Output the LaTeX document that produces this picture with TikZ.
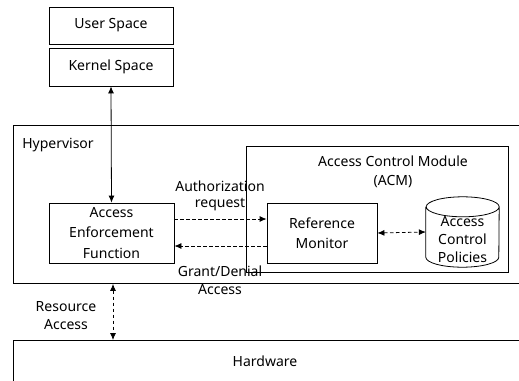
\documentclass[tikz,border=0pt]{standalone}
\usepackage{fontspec}
\setmainfont{Noto Sans}
\usetikzlibrary{positioning, arrows.meta}

\tikzset{
  box/.style={draw, line width=0.8pt, align=center},
  layer/.style={draw, line width=0.9pt, anchor=north west, minimum width=540pt},
  tip/.style={-{Latex[length=7pt,width=6pt]}},
  twotip/.style={{Latex[length=7pt,width=6pt]}-{Latex[length=7pt,width=6pt]}},
  dsh/.style={dash pattern=on 3.5pt off 2.5pt, line width=0.8pt}
}

\begin{document}
\begin{tikzpicture}[x=1pt, y=-1pt, font=\fontsize{14}{20.5}\selectfont]
        \useasboundingbox (0,0) rectangle (519,380);
        \clip (0,0) rectangle (519,380);
        % guest side
        \node[box, minimum width=124pt, minimum height=37pt] (user) at (111,25.5) {User Space};
        \node[box, minimum width=124pt, minimum height=38pt] (kernel) at (111,67) {Kernel Space};
        % layers
        \node[layer, minimum height=158pt] (hyp) at (13,125) {};
        \node (hyplabel) at (58,145) {Hypervisor};
        \node[layer, minimum height=60pt] (hw) at (13,340) {};
        \node (hwlabel) at (265,361) {Hardware};
        % access control module
        \node[box, anchor=north west, minimum width=262pt, minimum height=126pt] (acm) at (246,146) {};
        \node[align=center, font=\fontsize{14}{19}\selectfont] (acmlabel) at (393,172) {Access Control Module\\(ACM)};
        \node[box, minimum width=125pt, minimum height=60pt] (aef) at (111.5,233) {Access\\Enforcement\\Function};
        \node[box, minimum width=110pt, minimum height=60pt] (rm) at (322,233) {Reference\\Monitor};
        % policy store (drawn as a drum)
        \node[minimum width=73pt, minimum height=70pt, inner sep=0pt] (acp) at (462.5,232) {};
        \draw[line width=0.8pt] ([yshift=-10pt]acp.north west) -- ([yshift=10pt]acp.south west)
            arc[x radius=36.5pt, y radius=10pt, start angle=180, end angle=360]
            -- ([yshift=-10pt]acp.north east)
            arc[x radius=36.5pt, y radius=10pt, start angle=0, end angle=360];
        \node[align=center, font=\fontsize{14}{18}\selectfont] (acplabel) at (462.5,240) {Access\\Control\\Policies};
        % arrow labels
        \node[align=center, font=\fontsize{14}{15.5}\selectfont] (authlabel) at (220,196) {Authorization\\request};
        \node[align=center, font=\fontsize{14}{18}\selectfont] (grantlabel) at (220,280) {Grant/Denial\\Access};
        \node[align=center, font=\fontsize{14}{18}\selectfont] (reslabel) at (66,316) {Resource\\Access};

        % connectors
        \draw[twotip, line width=0.8pt] (kernel.south) -- (aef.north);
        \draw[tip, dsh] ([yshift=14pt]aef.east) -- ([yshift=14pt]rm.west);
        \draw[tip, dsh] ([yshift=-13pt]rm.west) -- ([yshift=-13pt]aef.east);
        \draw[twotip, dsh] (rm.east) -- (acp.west);
        \draw[twotip, dsh] ([xshift=1.5pt]aef.south |- hyp.south) -- ([xshift=1.5pt]aef.south |- hw.north);
    \end{tikzpicture}
\end{document}
